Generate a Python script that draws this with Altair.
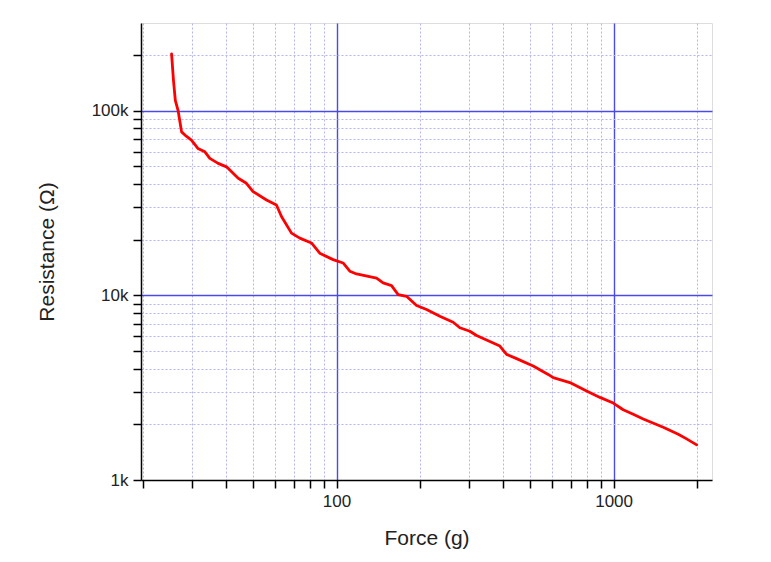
import altair as alt
import pandas as pd

# Force (g) and Resistance (ohm)
force = [25.4, 25.8, 26.2, 26.8, 27.6, 28.7, 29.95, 31.6, 33.5, 34.9, 37.4, 40.1,
         44.2, 47.3, 50.0, 55.9, 60.7, 63.3, 68.8, 73.7, 81.2, 87.0, 97.2, 105.6,
         111.7, 118.1, 139.5, 147.3, 158.0, 166.9, 178.9, 194.5, 211.3, 236.0,
         263.6, 278.7, 302.8, 320.2, 388.6, 410.9, 446.5, 512.6, 580.6, 605.3,
         695.3, 798.8, 892.5, 996.8, 1083, 1177, 1279, 1510, 1711, 1834, 1994]
resistance = [203000, 145700, 113600, 100400, 76700, 72700, 69200, 62400, 59800,
              55100, 51800, 49600, 43000, 40400, 36400, 32800, 30800, 26700, 21700,
              20400, 19200, 16900, 15600, 14960, 13500, 13050, 12400, 11670, 11280,
              10090, 9880, 8800, 8370, 7700, 7150, 6670, 6390, 6060, 5310, 4790,
              4540, 4140, 3730, 3580, 3370, 3030, 2800, 2610, 2400, 2270, 2140,
              1930, 1770, 1670, 1550]

x_ticks = [20, 30, 40, 50, 60, 70, 80, 90, 100, 200, 300, 400, 500, 600, 700,
           800, 900, 1000, 2000]
x_major = [100, 1000]
y_ticks = [1000, 2000, 3000, 4000, 5000, 6000, 7000, 8000, 9000,
           10000, 20000, 30000, 40000, 50000, 60000, 70000, 80000, 90000,
           100000, 200000]
y_major = [1000, 10000, 100000]
y_major_labels = ["1k", "10k", "100k"]
x_domain = [19.7, 2265]
y_domain = [1000, 298000]

df = pd.DataFrame({"Force": force, "Resistance": resistance})

x_test = " || ".join(f"datum.value == {v}" for v in x_major)
y_grid_test = " || ".join(f"datum.value == {v}" for v in y_major[1:])
y_label_expr = "".join(f"datum.value == {v} ? '{l}' : " for v, l in zip(y_major, y_major_labels)) + "''"

major_col = "#4a4ae8"
minor_col = "#b4b4f0"
font = "Liberation Sans"

x_axis = alt.Axis(
    values=x_ticks,
    labelExpr=f"({x_test}) ? format(datum.value, 'd') : ''",
    title="Force (g)",
    grid=True,
    gridColor={"condition": {"test": x_test, "value": major_col}, "value": minor_col},
    gridDash={"condition": {"test": x_test, "value": []}, "value": [2, 2]},
    gridWidth={"condition": {"test": x_test, "value": 1.4}, "value": 1},
    domainColor="black", domainWidth=1.5,
    tickColor="black", tickWidth=1.5, tickSize=8,
    labelFont=font, labelFontSize=17, labelColor="#222", labelPadding=5,
    labelFlush=False, labelOverlap=False,
    titleFont=font, titleFontSize=21, titleFontWeight="normal", titleColor="#222",
    titlePadding=18,
)
y_axis = alt.Axis(
    values=y_ticks,
    labelExpr=y_label_expr,
    title="Resistance (Ω)",
    grid=True,
    gridColor={"condition": {"test": y_grid_test, "value": major_col}, "value": minor_col},
    gridDash={"condition": {"test": y_grid_test, "value": []}, "value": [2, 2]},
    gridWidth={"condition": {"test": y_grid_test, "value": 1.4}, "value": 1},
    domainColor="black", domainWidth=1.5,
    tickColor="black", tickWidth=1.5, tickSize=8,
    labelFont=font, labelFontSize=17, labelColor="#222", labelPadding=5,
    labelFlush=False, labelOverlap=False,
    titleFont=font, titleFontSize=21, titleFontWeight="normal", titleColor="#222",
    titlePadding=34,
)

chart = alt.Chart(df).mark_line(
    color="#ff0000", strokeWidth=2.8, strokeJoin="round", strokeCap="round", clip=True
).encode(
    x=alt.X("Force:Q", scale=alt.Scale(type="log", domain=x_domain, nice=False), axis=x_axis),
    y=alt.Y("Resistance:Q", scale=alt.Scale(type="log", domain=y_domain, nice=False), axis=y_axis),
    order=alt.Order("Force:Q"),
).properties(
    width=571, height=457,
    autosize=alt.AutoSizeParams(type="none"),
    padding={"left": 133, "top": 15, "right": 45, "bottom": 75},
).configure_view(
    stroke="black", strokeWidth=1.5
).configure(background="white")

chart.save("out.html", embed_options={"renderer": "svg", "actions": False})
